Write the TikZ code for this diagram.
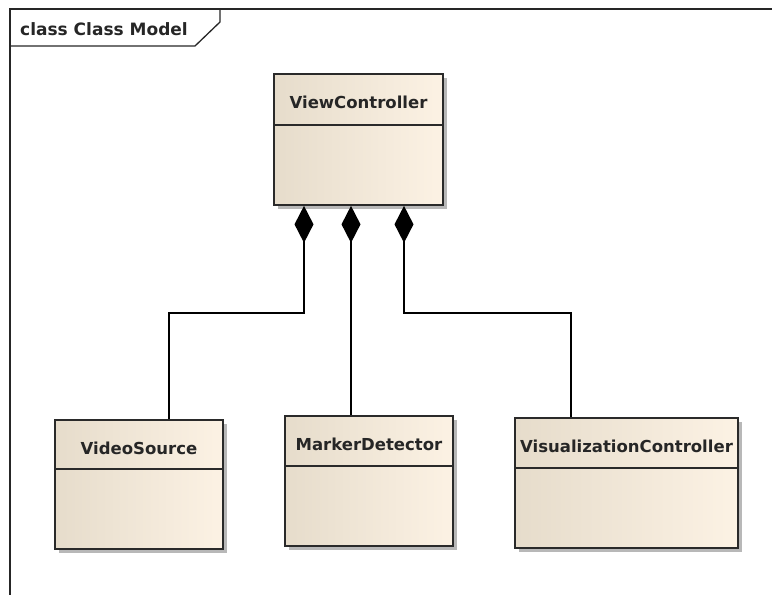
\documentclass[tikz,border=0pt]{standalone}
\usepackage{fontspec}
\setmainfont{DejaVu Sans}
\usetikzlibrary{positioning,arrows.meta,shadows}

\definecolor{boxleft}{HTML}{E6DCCB}
\definecolor{boxright}{HTML}{FCF2E4}
\definecolor{boxline}{HTML}{2A2A2A}

\begin{document}
\begin{tikzpicture}
  [
    x=1pt, y=-1pt,
    classbox/.style={draw=boxline, line width=1.7pt, rectangle, inner sep=0pt,
      left color=boxleft, right color=boxright,
      drop shadow={shadow xshift=4pt, shadow yshift=-4pt, fill=black!28, opacity=1}},
    classname/.style={font=\bfseries\fontsize{16.5}{19}\selectfont, text=black!85, inner sep=0pt},
    divider/.style={draw=boxline, line width=1.6pt},
    compose/.style={{Diamond[length=37pt,width=19pt]}-, line width=1.5pt},
    frame/.style={draw=black!85, line width=1.6pt},
  ]
  \useasboundingbox (0,0) rectangle (772,595);

  % diagram frame
  \node (frametitle) [classname, font=\bfseries\fontsize{17}{20}\selectfont, anchor=west] at (20,29) {class Class Model};
  \draw [frame] (10,595) -- (10,9) -- (772,9);
  \draw [frame, line width=1.3pt] (10,46) -- (195,46) -- (220,22) -- (220,9);

  % classes
  \node (vc) [classbox, minimum width=169pt, minimum height=131pt] at (358.5,139.5) {};
  \node (vs) [classbox, minimum width=168pt, minimum height=129pt] at (139,484.5) {};
  \node (md) [classbox, minimum width=168pt, minimum height=130pt] at (369,481) {};
  \node (vz) [classbox, minimum width=223pt, minimum height=130pt] at (626.5,483) {};

  \node (vcname) [classname] at ([yshift=-29pt]vc.north) {ViewController};
  \node (vsname) [classname] at ([yshift=-29pt]vs.north) {VideoSource};
  \node (mdname) [classname] at ([yshift=-29pt]md.north) {MarkerDetector};
  \node (vzname) [classname] at ([yshift=-29pt]vz.north) {VisualizationController};

  \draw [divider] ([yshift=-52pt]vc.north west) -- ([yshift=-52pt]vc.north east);
  \draw [divider] ([yshift=-50pt]vs.north west) -- ([yshift=-50pt]vs.north east);
  \draw [divider] ([yshift=-51pt]md.north west) -- ([yshift=-51pt]md.north east);
  \draw [divider] ([yshift=-51pt]vz.north west) -- ([yshift=-51pt]vz.north east);

  % compositions
  \draw [compose] ([xshift=-54.5pt]vc.south) -- ++(0,107) -| ([xshift=30pt]vs.north);
  \draw [compose] ([xshift=-7.5pt]vc.south) -- ([xshift=-18pt]md.north);
  \draw [compose] ([xshift=45.5pt]vc.south) -- ++(0,107) -| ([xshift=-55.5pt]vz.north);
\end{tikzpicture}
\end{document}
